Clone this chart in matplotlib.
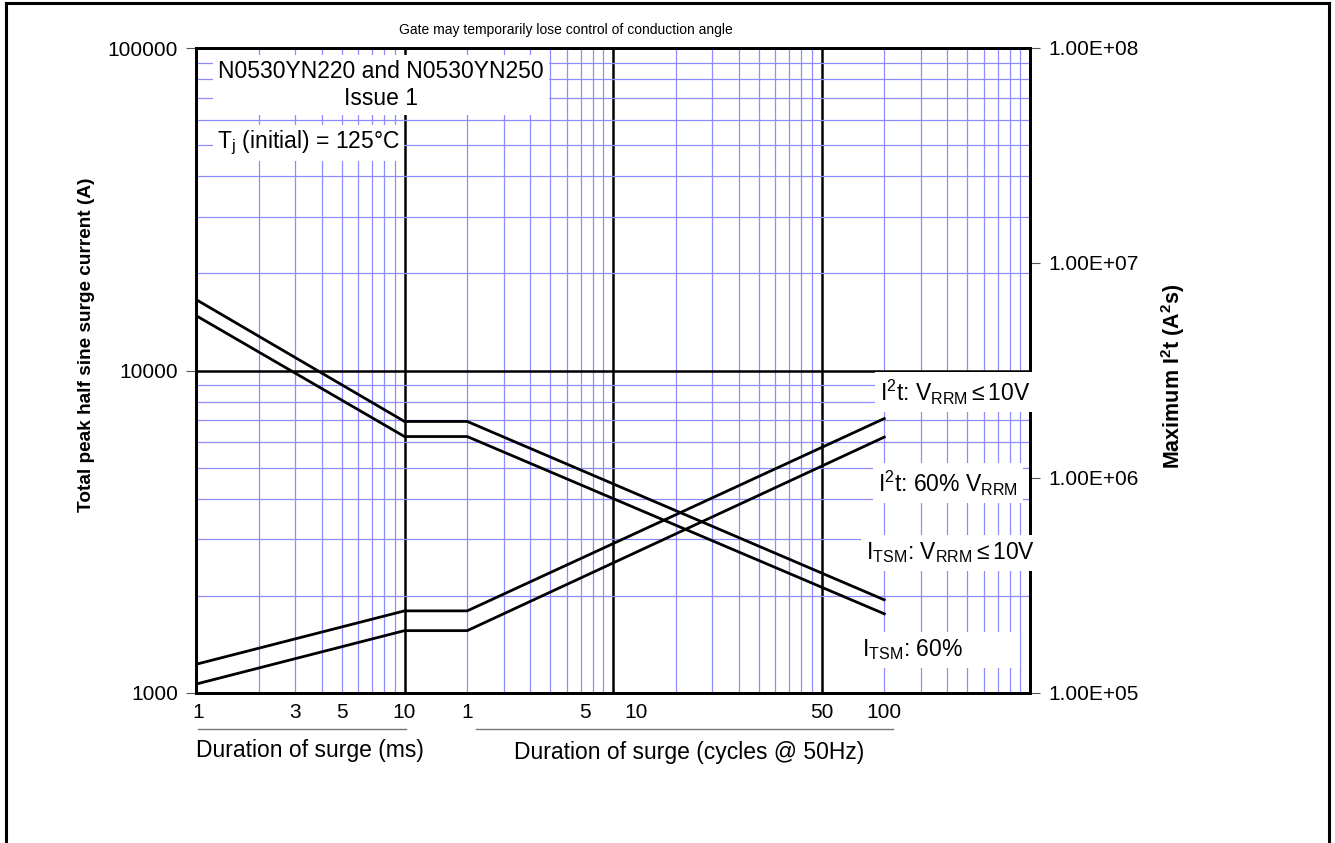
import matplotlib
matplotlib.use("Agg")
from matplotlib import pyplot as plt
from matplotlib.lines import Line2D
from matplotlib.ticker import LogLocator, NullFormatter, FixedLocator
import matplotlib.transforms as mtransforms

plt.rcParams['font.family'] = ['Liberation Sans', 'DejaVu Sans']
plt.rcParams['mathtext.fontset'] = 'custom'
plt.rcParams['mathtext.rm'] = 'Liberation Sans'
plt.rcParams['mathtext.it'] = 'Liberation Sans'
plt.rcParams['mathtext.bf'] = 'Liberation Sans:bold'

# surge duration in ms (20 ms = 1 cycle @ 50Hz)
t_ms = [1, 10, 20, 2000]
itsm_10v = [16600, 6950, 6950, 1945]
itsm_60 = [14800, 6240, 6240, 1760]
i2t_10v = [1.36e5, 2.41e5, 2.41e5, 1.89e6]
i2t_60 = [1.10e5, 1.95e5, 1.95e5, 1.55e6]

# bottom tick labels (positions as printed on the sheet)
xlab_pos = [1.02, 3, 5, 10, 20, 73, 129, 1000, 2000]
xlab_txt = ["1", "3", "5", "10", "1", "5", "10", "50", "100"]

left_ticks = [1000, 10000, 100000]
right_ticks = [1e5, 1e6, 1e7, 1e8]
right_labels = ["1.00E+05", "1.00E+06", "1.00E+07", "1.00E+08"]

W, H = 1335, 843
fig = plt.figure(figsize=(W / 100, H / 100), dpi=100)
x0, x1, y0, y1 = 196, 1030, 48, 693
ax = fig.add_axes([x0 / W, 1 - y1 / H, (x1 - x0) / W, (y1 - y0) / H])

def axpt(px, py):
    return (px - x0) / (x1 - x0), (y1 - py) / (y1 - y0)

blue = '#8c8cff'
ax.set_xscale('log')
ax.set_yscale('log')
ax.set_xlim(1, 10000)
ax.set_ylim(1000, 100000)
ax.xaxis.set_major_locator(LogLocator(base=10))
ax.xaxis.set_minor_locator(LogLocator(base=10, subs=range(2, 10)))
ax.xaxis.set_major_formatter(NullFormatter())
ax.xaxis.set_minor_formatter(NullFormatter())
ax.yaxis.set_major_locator(FixedLocator(left_ticks))
ax.yaxis.set_minor_locator(LogLocator(base=10, subs=range(2, 10)))
ax.yaxis.set_minor_formatter(NullFormatter())
ax.set_yticklabels([f"{v:d}" for v in left_ticks])
ax.grid(True, which='major', color='black', lw=1.8)
ax.grid(True, which='minor', color=blue, lw=0.9)
ax.set_axisbelow(True)
ax.tick_params(axis='x', which='both', length=0)
ax.tick_params(axis='y', which='major', length=7, width=0.8, color='#555555',
               labelsize=15, pad=6)
ax.tick_params(axis='y', which='minor', length=0)
for s in ax.spines.values():
    s.set_linewidth(2.0)

ax.plot(t_ms, itsm_10v, color='black', lw=2.0, zorder=3)
ax.plot(t_ms, itsm_60, color='black', lw=2.0, zorder=3)

ax2 = ax.twinx()
ax2.set_yscale('log')
ax2.set_ylim(1e5, 1e8)
ax2.yaxis.set_major_locator(FixedLocator(right_ticks))
ax2.yaxis.set_minor_formatter(NullFormatter())
ax2.set_yticklabels(right_labels)
ax2.tick_params(axis='y', which='major', length=7, width=0.8, color='#555555',
                labelsize=15, pad=6)
ax2.tick_params(axis='y', which='minor', length=0)
for s in ax2.spines.values():
    s.set_linewidth(2.0)
ax2.plot(t_ms, i2t_10v, color='black', lw=2.0)
ax2.plot(t_ms, i2t_60, color='black', lw=2.0)

# bottom labels
trans = mtransforms.blended_transform_factory(ax.transData, ax.transAxes)
for p, t in zip(xlab_pos, xlab_txt):
    ax.text(p, axpt(0, 712)[1], t, transform=trans, ha='center', va='center',
            fontsize=15, clip_on=False)
ax.add_line(Line2D([1.02, 10.2], [axpt(0, 729)[1]] * 2, transform=trans,
                   color='#777777', lw=1.0, clip_on=False))
ax.add_line(Line2D([22, 2200], [axpt(0, 729)[1]] * 2, transform=trans,
                   color='#777777', lw=1.0, clip_on=False))
ax.text(*axpt(310, 751), "Duration of surge (ms)", transform=ax.transAxes,
        ha='center', va='center', fontsize=16.5)
ax.text(*axpt(689, 753), "Duration of surge (cycles @ 50Hz)", transform=ax.transAxes,
        ha='center', va='center', fontsize=16.5)

box = dict(facecolor='white', edgecolor='none', pad=3)
ax2.text(*axpt(381, 85), "N0530YN220 and N0530YN250\nIssue 1", transform=ax.transAxes,
         ha='center', va='center', multialignment='center', fontsize=16.5,
         linespacing=1.2, bbox=dict(facecolor='white', edgecolor='none', pad=4))
ax2.text(*axpt(217, 143), r"T$_\mathregular{j}$ (initial) = 125°C", transform=ax.transAxes,
         ha='left', va='center', fontsize=16.5, bbox=box)
ax2.text(*axpt(880, 392), r"I$^\mathregular{2}$t: V$_\mathregular{RRM}$$\leq$10V",
         transform=ax.transAxes, ha='left', va='center', fontsize=16.5,
         bbox=dict(facecolor='white', edgecolor='none', pad=4), clip_on=False)
ax2.text(*axpt(878, 483), r"I$^\mathregular{2}$t: 60% V$_\mathregular{RRM}$",
         transform=ax.transAxes, ha='left', va='center', fontsize=16.5,
         bbox=dict(facecolor='white', edgecolor='none', pad=4), clip_on=False)
ax2.text(*axpt(866, 553), r"I$_\mathregular{TSM}$: V$_\mathregular{RRM}$$\leq$10V",
         transform=ax.transAxes, ha='left', va='center', fontsize=16.5,
         bbox=dict(facecolor='white', edgecolor='none', pad=4), clip_on=False)
ax2.text(*axpt(862, 650), r"I$_\mathregular{TSM}$: 60%         ",
         transform=ax.transAxes, ha='left', va='center', fontsize=16.5,
         bbox=dict(facecolor='white', edgecolor='none', pad=4), clip_on=False)

# axis titles and header
fig.text(566 / W, 1 - 30 / H, "Gate may temporarily lose control of conduction angle",
         ha='center', va='center', fontsize=10)
fig.text(87 / W, 1 - 345 / H, "Total peak half sine surge current (A)", rotation=90,
         ha='center', va='center', fontsize=13.7, fontweight='bold')
fig.text(1173 / W, 1 - 376 / H, r"Maximum I$^\mathbf{2}$t (A$^\mathbf{2}$s)", rotation=90,
         ha='center', va='center', fontsize=15.5, fontweight='bold')

# page frame
for xs, ys in [([6 / W, 6 / W], [0, 1 - 3 / H]),
               ([1329 / W, 1329 / W], [0, 1 - 3 / H]),
               ([6 / W, 1329 / W], [1 - 3 / H, 1 - 3 / H])]:
    fig.add_artist(Line2D(xs, ys, color='black', lw=2.2, transform=fig.transFigure))

fig.savefig("out.png", dpi=100)
